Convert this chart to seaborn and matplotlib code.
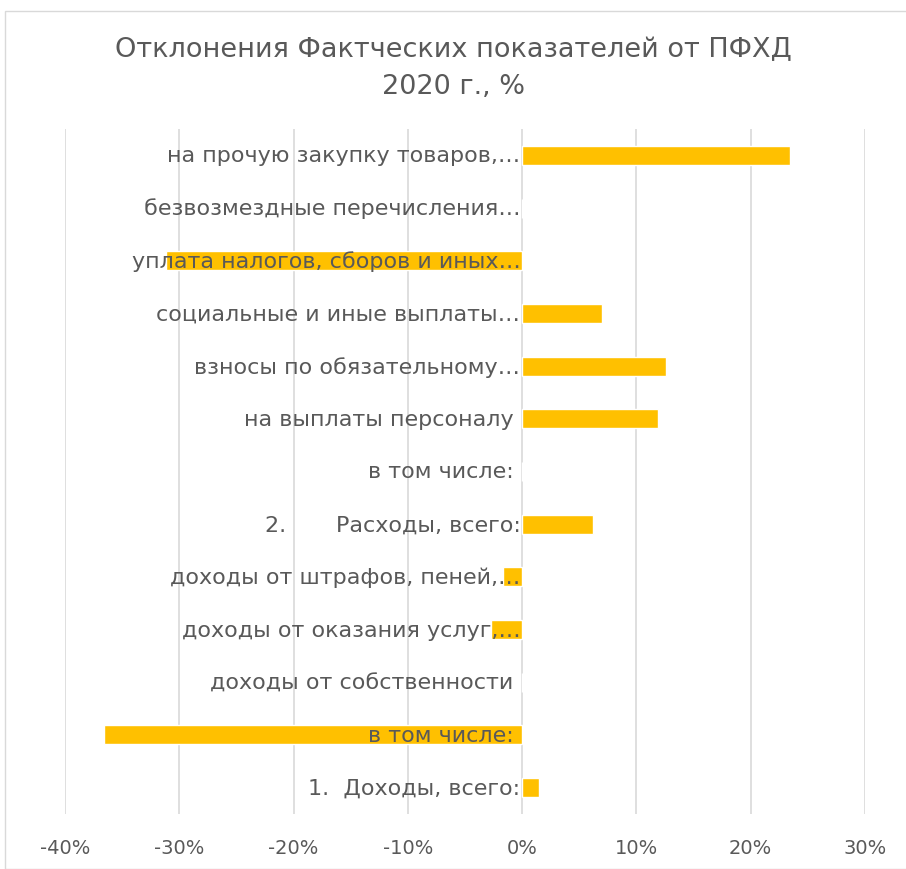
import matplotlib
matplotlib.use("Agg")
import matplotlib.pyplot as plt
from matplotlib.patches import Rectangle
from matplotlib.ticker import FuncFormatter
import seaborn as sns
import pandas as pd

# Rows listed from top to bottom of the chart
labels = [
    "на прочую закупку товаров,…",
    "безвозмездные перечисления…",
    "уплата налогов, сборов и иных…",
    "социальные и иные выплаты…",
    "взносы по обязательному…",
    "на выплаты персоналу ",
    "в том числе: ",
    "2.       Расходы, всего:",
    "доходы от штрафов, пеней,…",
    "доходы от оказания услуг,…",
    "доходы от собственности ",
    "в том числе: ",
    "1.  Доходы, всего:",
]
deviation_pct = [23.4, 0.0, -31.2, 7.0, 12.6, 11.9, 0.0, 6.2, -1.7, -2.7, 0.0, -36.6, 1.5]
x_ticks = [-40, -30, -20, -10, 0, 10, 20, 30]

sns.set_theme(style="white")
plt.rcParams["font.family"] = ["DejaVu Sans"]

grey = "#595959"
df = pd.DataFrame({
    "row": [f"r{i}" for i in range(len(labels))],
    "label": labels,
    "value": deviation_pct,
})

fig = plt.figure(figsize=(9.06, 8.70), dpi=100)
ax = fig.add_axes([65 / 906, 1 - 815 / 870, 800 / 906, (815 - 130) / 870])

sns.barplot(data=df, x="value", y="row", order=list(df["row"]),
            color="#FFC000", saturation=1, width=0.36, ax=ax, zorder=2)

ax.set_xlim(x_ticks[0], x_ticks[-1])
ax.set_xticks(x_ticks)
ax.xaxis.set_major_formatter(FuncFormatter(lambda v, p: f"{v:.0f}%"))
ax.tick_params(axis="x", length=0, pad=17, labelsize=14, labelcolor=grey)
ax.set_yticks([])
ax.set_xlabel("")
ax.set_ylabel("")
ax.grid(axis="x", color="#d9d9d9", linewidth=1.2, zorder=0)
ax.set_axisbelow(True)
for s in ax.spines.values():
    s.set_visible(False)

# Category names sit right-aligned against the zero line, over the bars
for i, lab in enumerate(df["label"]):
    ax.text(-0.15, i, lab, ha="right", va="center", fontsize=16,
            color=grey, zorder=5)

fig.text(0.5, 1 - 50 / 870, "Отклонения Фактческих показателей от ПФХД",
         ha="center", va="center", fontsize=19.5, color=grey)
fig.text(0.5, 1 - 87 / 870, "2020 г., %",
         ha="center", va="center", fontsize=19.5, color=grey)

fig.add_artist(Rectangle((5 / 906, 0), 1, 1 - 12 / 870, transform=fig.transFigure,
                         fill=False, edgecolor="#d9d9d9", linewidth=1))

fig.savefig("out.png", dpi=100)
